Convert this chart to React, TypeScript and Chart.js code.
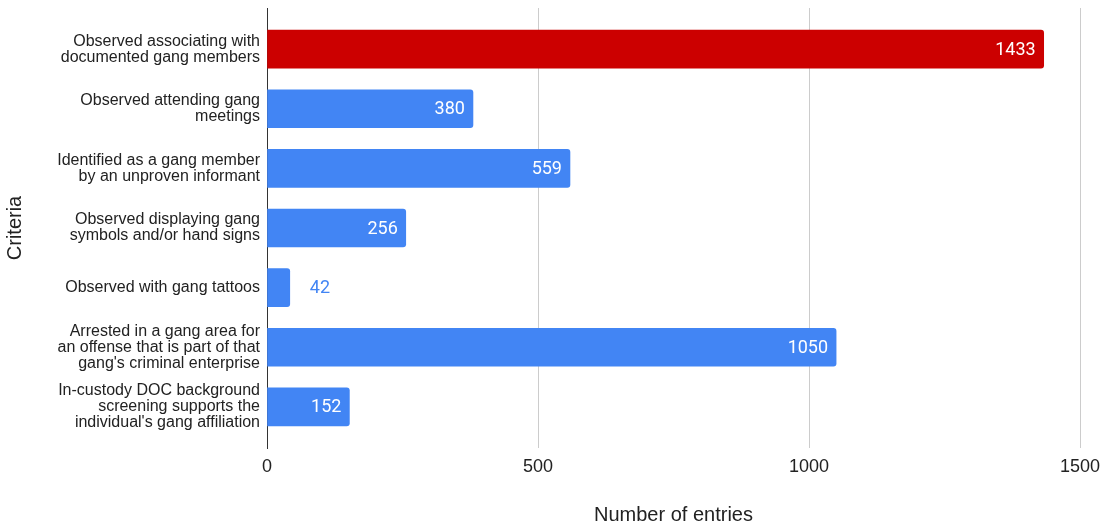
import React, { useEffect, useRef } from "react";
import { Chart, registerables } from "chart.js";

Chart.register(...registerables);

const categories: string[][] = [
  ["Observed associating with", "documented gang members"],
  ["Observed attending gang", "meetings"],
  ["Identified as a gang member", "by an unproven informant"],
  ["Observed displaying gang", "symbols and/or hand signs"],
  ["Observed with gang tattoos"],
  ["Arrested in a gang area for", "an offense that is part of that", "gang's criminal enterprise"],
  ["In-custody DOC background", "screening supports the", "individual's gang affiliation"],
];
const values: number[] = [1433, 380, 559, 256, 42, 1050, 152];
const barColors: string[] = ["#CC0000", "#4285F4", "#4285F4", "#4285F4", "#4285F4", "#4285F4", "#4285F4"];
const xTicks: number[] = [0, 500, 1000, 1500];

const labelPlugin = {
  id: "barValueLabels",
  afterDatasetsDraw(chart: any) {
    const { ctx } = chart;
    const meta = chart.getDatasetMeta(0);
    ctx.save();
    ctx.font = "18px Roboto";
    ctx.textBaseline = "middle";
    meta.data.forEach((bar: any, i: number) => {
      const text = String(values[i]);
      const w = ctx.measureText(text).width;
      const barW = bar.x - bar.base;
      if (barW > w + 16) {
        ctx.fillStyle = "#ffffff";
        ctx.textAlign = "right";
        ctx.fillText(text, bar.x - 8, bar.y + 1);
      } else {
        ctx.fillStyle = barColors[i];
        ctx.textAlign = "left";
        ctx.fillText(text, bar.x + 20, bar.y + 1);
      }
    });
    ctx.restore();
  },
};

export default function App() {
  const canvasRef = useRef<HTMLCanvasElement | null>(null);

  useEffect(() => {
    if (!canvasRef.current) return;
    const chart = new Chart(canvasRef.current, {
      type: "bar",
      data: {
        datasets: [
          {
            data: values.map((v, i) => ({ x: v, y: i })),
            backgroundColor: barColors,
            borderRadius: 3,
            borderSkipped: "start",
            barThickness: 38,
          } as any,
        ],
      },
      plugins: [labelPlugin],
      options: {
        indexAxis: "y",
        animation: false,
        responsive: true,
        maintainAspectRatio: false,
        layout: { padding: { top: 8, right: 24, left: 0, bottom: 0 } },
        plugins: {
          legend: { display: false },
          tooltip: { enabled: false },
        },
        scales: {
          x: {
            type: "linear",
            min: 0,
            max: 1500,
            afterBuildTicks: (scale: any) => {
              scale.ticks = xTicks.map((v) => ({ value: v }));
            },
            afterFit: (scale: any) => {
              scale.height = 79;
              scale.paddingLeft = 0;
              scale.paddingRight = 0;
            },
            grid: { color: "#cccccc", drawTicks: false, lineWidth: 1 },
            border: { display: false },
            ticks: {
              padding: 8,
              color: "#222222",
              font: { family: "Arial, 'Liberation Sans'", size: 18 },
              maxRotation: 0,
              callback: (value: any) => String(value),
            },
            title: {
              display: true,
              text: "Number of entries",
              color: "#222222",
              font: { family: "Arial, 'Liberation Sans'", size: 20 },
              padding: { top: 0, bottom: 0 },
            },
          },
          y: {
            type: "linear",
            reverse: true,
            offset: false,
            min: -0.69,
            max: categories.length - 1 + 0.69,
            afterBuildTicks: (scale: any) => {
              scale.ticks = categories.map((_, i) => ({ value: i }));
            },
            afterFit: (scale: any) => {
              scale.width = 267;
              scale.paddingTop = 0;
              scale.paddingBottom = 0;
            },
            grid: { display: false, drawTicks: false, offset: false },
            border: { display: true, color: "#333333", width: 1 },
            ticks: {
              padding: 7,
              color: "#222222",
              font: { family: "Arial, 'Liberation Sans'", size: 16, lineHeight: 1 },
              callback: (value: any) => categories[Math.round(Number(value))] ?? "",
            },
            title: {
              display: true,
              text: "Criteria",
              color: "#222222",
              font: { family: "Arial, 'Liberation Sans'", size: 20 },
              padding: { top: 3, bottom: 0 },
            },
          },
        },
      } as any,
    });
    return () => chart.destroy();
  }, []);

  return (
    <div style={{ position: "fixed", left: 0, top: 0, width: 1104, height: 527, background: "#ffffff" }}>
      <canvas ref={canvasRef} />
    </div>
  );
}
